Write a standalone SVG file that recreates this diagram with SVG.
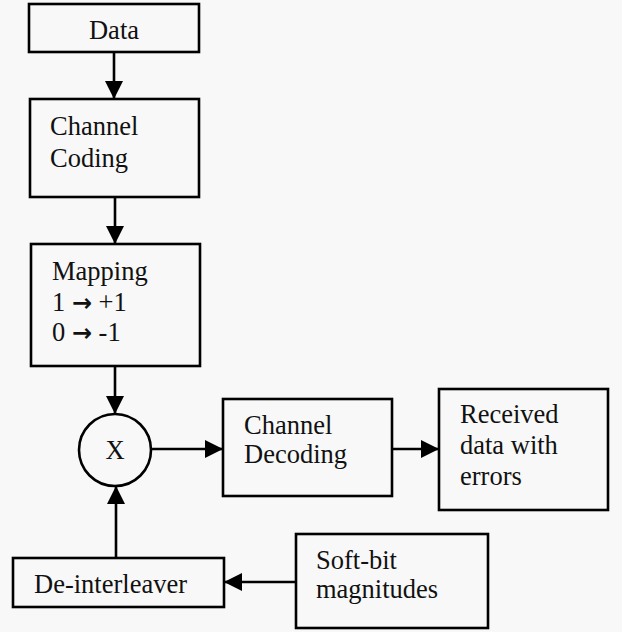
<svg xmlns="http://www.w3.org/2000/svg" width="622" height="632" viewBox="0 0 622 632">
<defs>
<style>
.box{fill:none;stroke:#000;stroke-width:2.6}
.t{font-family:"Liberation Serif","Times New Roman",serif;font-size:26.5px;fill:#111}
.c{stroke:#000;stroke-width:2.6;fill:none}
.ar{font-family:"DejaVu Sans",sans-serif;font-weight:bold;font-size:24px}
</style>
<marker id="ah" markerUnits="userSpaceOnUse" markerWidth="18" markerHeight="18" viewBox="0 0 16 16" refX="16" refY="8" orient="auto">
<path d="M0,0 L16,8 L0,16 Z" fill="#000"/>
</marker>
</defs>
<rect width="622" height="632" fill="#f8f8f8"/>
<g id="data"><rect class="box" x="29" y="4" width="170" height="48"/><text class="t" x="114" y="39" text-anchor="middle">Data</text></g>
<g id="coding"><rect class="box" x="30" y="99" width="169" height="98"/><text class="t" x="50" y="135">Channel</text><text class="t" x="50" y="167">Coding</text></g>
<g id="mapping"><rect class="box" x="31" y="244" width="169" height="122"/><text class="t" x="52" y="280">Mapping</text><text class="t" x="52" y="311">1 <tspan class="ar">→</tspan> +1</text><text class="t" x="52" y="341">0 <tspan class="ar">→</tspan> -1</text></g>
<g id="mult"><circle class="box" cx="115" cy="450" r="36"/><text class="t" x="115" y="459" text-anchor="middle">X</text></g>
<g id="decoding"><rect class="box" x="223" y="399" width="169" height="97"/><text class="t" x="244" y="434">Channel</text><text class="t" x="244" y="463">Decoding</text></g>
<g id="received"><rect class="box" x="439" y="389" width="169" height="121"/><text class="t" x="460" y="423">Received</text><text class="t" x="460" y="454">data with</text><text class="t" x="460" y="485">errors</text></g>
<g id="deinterleaver"><rect class="box" x="13" y="558" width="211" height="49"/><text class="t" x="34" y="593">De-interleaver</text></g>
<g id="softbit"><rect class="box" x="296" y="534" width="192" height="94"/><text class="t" x="316" y="569">Soft-bit</text><text class="t" x="316" y="598">magnitudes</text></g>
<g id="connectors">
<line class="c" x1="114" y1="52" x2="114" y2="99" marker-end="url(#ah)"/>
<line class="c" x1="115" y1="197" x2="115" y2="244" marker-end="url(#ah)"/>
<line class="c" x1="115" y1="366" x2="115" y2="414" marker-end="url(#ah)"/>
<line class="c" x1="151" y1="449" x2="223" y2="449" marker-end="url(#ah)"/>
<line class="c" x1="392" y1="449" x2="439" y2="449" marker-end="url(#ah)"/>
<line class="c" x1="116" y1="558" x2="116" y2="486" marker-end="url(#ah)"/>
<line class="c" x1="296" y1="582" x2="224" y2="582" marker-end="url(#ah)"/>
</g>
</svg>
